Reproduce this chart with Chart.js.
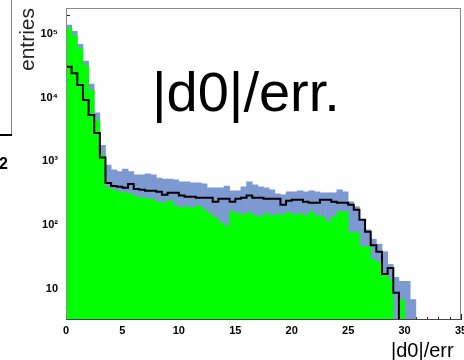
<!DOCTYPE html>
<html><head><meta charset="utf-8">
<script src="https://cdn.jsdelivr.net/npm/chart.js@4.4.1/dist/chart.umd.min.js"></script>
<style>
html,body{margin:0;padding:0;background:#fff;overflow:hidden}
#wrap{position:relative;width:464px;height:360px;overflow:hidden}
canvas{position:absolute;left:0;top:0}
.t{position:absolute;white-space:nowrap;font-family:"Liberation Sans",Arial,Helvetica,sans-serif;color:#000}
</style></head><body>
<div id="wrap">
<canvas id="c" width="464" height="360"></canvas>
<div class="t" style="left:152px;top:64px;font-size:56px;line-height:56px">|d0|/err.</div>
<div class="t" style="left:391px;top:340px;font-size:20px;line-height:20px">|d0|/err</div>
<div class="t" style="left:15.5px;top:71px;font-size:21px;line-height:21px;transform-origin:0 0;transform:rotate(-90deg);color:#222">entries</div>
<div class="t" style="left:-1px;top:156px;font-size:16px;line-height:16px;font-weight:bold">2</div>
<div style="position:absolute;left:11px;top:0;width:1px;height:135px;background:#888"></div>
<div style="position:absolute;left:0;top:134px;width:12px;height:2px;background:#000"></div>
</div>
<script>
// ---- data ----
const xRange = [0, 35];
const yRange = [3.2, 2.6e5];
const binWidth = 0.5;
const xTickValues = [0, 5, 10, 15, 20, 25, 30, 35];
const yTickValues = [10, 100, 1000, 10000, 100000];
const yTickLabels = ['10', '10\u00B2', '10\u00B3', '10\u2074', '10\u2075'];

const blueCounts = [
  140000, 112000, 70000, 38000, 16500, 5800, 1800, 880, 740, 690,
  760, 690, 616, 616, 640, 616, 550, 530, 530, 514,
  480, 480, 461, 461, 445, 385, 385, 385, 410, 345,
  345, 400, 480, 429, 400, 385, 358, 310, 299, 333,
  333, 345, 333, 345, 333, 321, 321, 321, 358, 333,
  232, 194, 121, 84, 60, 50, 38, 24, 15, 13,
  13, 6.7, 0, 0, 0, 0, 0, 0, 0, 0
];
const greenCounts = [
  126000, 97000, 60000, 33000, 13300, 4500, 1260, 385, 358, 333,
  320, 310, 278, 268, 260, 250, 224, 224, 240, 200,
  187, 194, 187, 200, 174, 150, 130, 108, 97, 162,
  150, 145, 156, 140, 135, 150, 140, 145, 145, 156,
  145, 150, 140, 162, 140, 135, 112, 135, 162, 162,
  76, 76, 46, 46, 28.5, 25.6, 16.6, 13.8, 0, 6.7,
  0, 0, 0, 0, 0, 0, 0, 0, 0, 0
];
const blackCounts = [
  31000, 24500, 16000, 9300, 5400, 2800, 1150, 460, 410, 400,
  385, 440, 370, 358, 345, 345, 333, 299, 321, 321,
  290, 278, 278, 268, 268, 268, 232, 260, 260, 232,
  260, 268, 290, 268, 268, 260, 260, 260, 208, 240,
  250, 250, 232, 224, 224, 250, 250, 232, 224, 224,
  208, 174, 121, 78, 48, 38, 17, 21, 8.6, 0,
  0, 0, 0, 0, 0, 0, 0, 0, 0, 0
];

// ---- build library data ----
const centers = blueCounts.map((_, i) => xRange[0] + (i + 0.5) * binWidth);
const edges = blackCounts.map((_, i) => xRange[0] + i * binWidth);
const barData = arr => arr.map((v, i) => ({x: centers[i], y: v > 0 ? v : null}));
const lineData = blackCounts.map((v, i) => ({x: edges[i], y: v > 0 ? v : yRange[0]}));
lineData.push({x: xRange[1], y: lineData[lineData.length - 1].y});

const FONT = "'Liberation Sans', Arial, Helvetica, sans-serif";

const framePlugin = {
  id: 'frame',
  beforeDatasetsDraw(chart) {
    const {ctx, chartArea: a, scales: {x, y}} = chart;
    ctx.save();
    ctx.strokeStyle = '#222';
    ctx.lineWidth = 1;
    ctx.beginPath();
    for (let v = xRange[0]; v <= xRange[1]; v += 1) {
      const px = Math.round(x.getPixelForValue(v)) + 0.5;
      const len = v % 5 === 0 ? 6 : 3;
      ctx.moveTo(px, a.bottom);
      ctx.lineTo(px, a.bottom - len);
    }
    for (let e = 0; e <= 5; e++) {
      for (let m = 1; m <= 9; m++) {
        const v = m * Math.pow(10, e);
        if (v < yRange[0] || v > yRange[1]) continue;
        const py = Math.round(y.getPixelForValue(v)) + 0.5;
        const len = m === 1 ? 8 : 4;
        ctx.moveTo(a.left, py);
        ctx.lineTo(a.left + len, py);
      }
    }
    ctx.stroke();
    ctx.restore();
  },
  afterDatasetsDraw(chart) {
    const {ctx, chartArea: a} = chart;
    ctx.save();
    ctx.strokeStyle = '#888';
    ctx.lineWidth = 1;
    ctx.strokeRect(a.left + 0.5, a.top + 0.5, a.right - a.left - 1, a.bottom - a.top - 1);
    ctx.strokeStyle = '#444';
    ctx.beginPath();
    ctx.moveTo(a.left, a.bottom - 0.5);
    ctx.lineTo(a.right, a.bottom - 0.5);
    ctx.stroke();
    ctx.restore();
  }
};

new Chart(document.getElementById('c'), {
  type: 'bar',
  data: {
    datasets: [
      {type: 'line', data: lineData, borderColor: '#000', borderWidth: 2, stepped: true,
       pointRadius: 0, fill: false, tension: 0, order: 0},
      {type: 'bar', data: barData(greenCounts), backgroundColor: '#00ff00', borderWidth: 0,
       grouped: false, barPercentage: 1, categoryPercentage: 1, order: 1},
      {type: 'bar', data: barData(blueCounts), backgroundColor: '#7d99d1', borderWidth: 0,
       grouped: false, barPercentage: 1, categoryPercentage: 1, order: 2}
    ]
  },
  options: {
    responsive: false,
    animation: false,
    devicePixelRatio: 1,
    layout: {padding: {top: 8, right: 3, left: 0, bottom: 0}},
    plugins: {legend: {display: false}, tooltip: {enabled: false}},
    scales: {
      x: {
        type: 'linear', min: xRange[0], max: xRange[1], offset: false,
        grid: {display: false, drawTicks: false, offset: false},
        border: {display: false},
        afterBuildTicks: s => { s.ticks = xTickValues.map(v => ({value: v})); },
        afterFit: s => { s.height = 40; s.paddingLeft = 0; s.paddingRight = 0; },
        ticks: {autoSkip: false, maxRotation: 0, padding: 4, color: '#000',
                font: {family: FONT, size: 11, weight: 'bold'},
                callback: v => String(v)}
      },
      y: {
        type: 'logarithmic', min: yRange[0], max: yRange[1], beginAtZero: false,
        grid: {display: false, drawTicks: false},
        border: {display: false},
        afterBuildTicks: s => { s.ticks = yTickValues.map(v => ({value: v})); },
        afterFit: s => { s.width = 66; s.paddingTop = 0; s.paddingBottom = 0; },
        ticks: {autoSkip: false, padding: 8, color: '#000',
                font: {family: FONT, size: 11, weight: 'bold'},
                callback: v => { const i = yTickValues.indexOf(v); return i >= 0 ? yTickLabels[i] : ''; }}
      }
    }
  },
  plugins: [framePlugin]
});
</script>
</body></html>
